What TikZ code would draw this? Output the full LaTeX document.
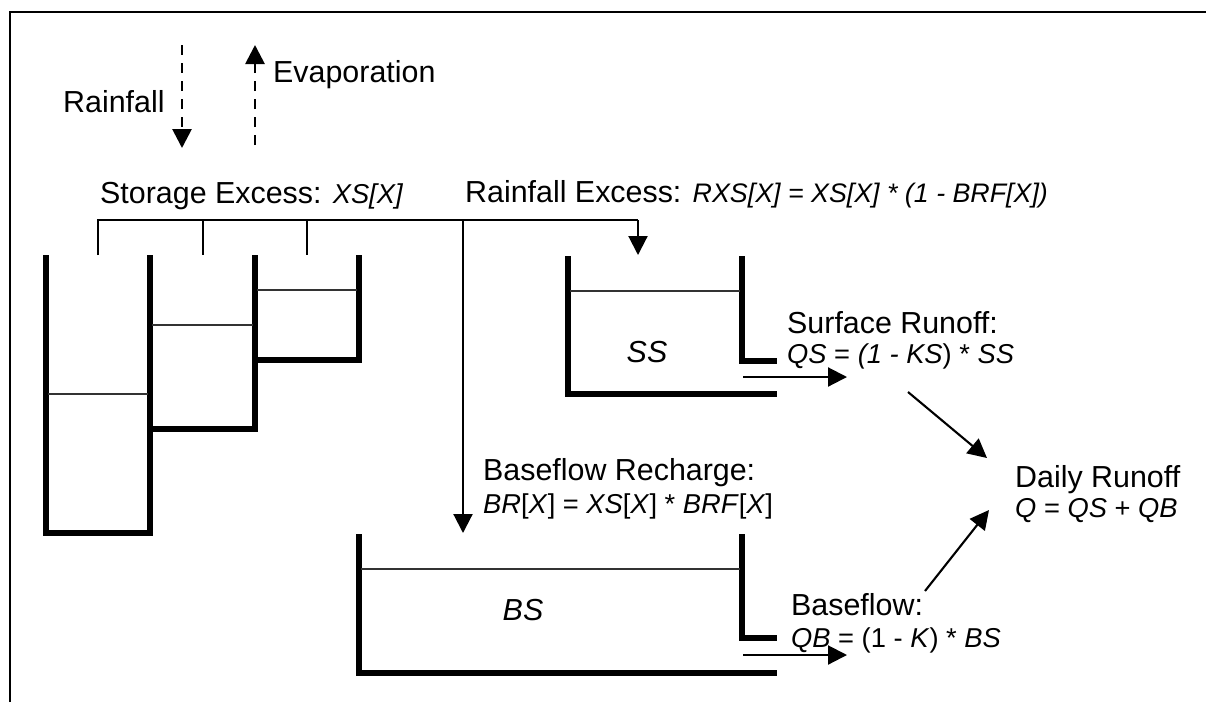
\documentclass[tikz,border=0pt]{standalone}
\usepackage{fontspec}
\setmainfont{Liberation Sans}
\usetikzlibrary{arrows.meta}
\begin{document}
\begin{tikzpicture}[x=1pt,y=-1pt,
  wall/.style={line width=5.2pt, line join=miter, line cap=butt},
  water/.style={line width=1.1pt, black!80},
  thinline/.style={line width=2.1pt},
  conn/.style={line width=2.1pt, -{Triangle[length=19pt,width=19pt]}},
  dasharrow/.style={line width=2.8pt, dash pattern=on 10pt off 8pt, -{Triangle[length=19pt,width=19pt]}},
  txt/.style={anchor=base west, inner sep=0pt, font=\fontsize{30.4}{36}\selectfont},
  fml/.style={anchor=base west, inner sep=0pt, font=\fontsize{27.3}{33}\selectfont},
  lbl/.style={inner sep=0pt, font=\fontsize{30.4}{36}\selectfont\itshape}]
\useasboundingbox (0,0) rectangle (1206,702);
% frame
\draw[line width=2.2pt] (10,702) -- (10,12) -- (1206,12);
% rainfall / evaporation
\coordinate (rtop) at (182,45);
\coordinate (rbot) at (182,148);
\coordinate (etop) at (255,45);
\coordinate (ebot) at (255,145);
\draw[dasharrow] (rtop) -- (rbot);
\draw[dasharrow] (ebot) -- (etop);
\node[txt] (rain) at (63,112) {Rainfall};
\node[txt] (evap) at (273,82) {Evaporation};
% storage excess labels
\node[txt] (se) at (100,203) {Storage Excess: {\fontsize{27.3}{33}\selectfont\itshape XS[X]}};
\node[txt] (re) at (465,202) {Rainfall Excess: {\fontsize{26.8}{33}\selectfont\itshape RXS[X] = XS[X] * (1 - BRF[X])}};
% bracket
\coordinate (b1) at (98,220);
\coordinate (b1d) at (98,255);
\coordinate (b2) at (203,220);
\coordinate (b2d) at (203,255);
\coordinate (b3) at (307,220);
\coordinate (b3d) at (307,255);
\coordinate (bv) at (463,220);
\coordinate (bsin) at (463,533);
\coordinate (be) at (638,220);
\coordinate (ssin) at (638,255);
\draw[thinline] (b1d) -- (b1) -- (be);
\draw[thinline] (b2) -- (b2d);
\draw[thinline] (b3) -- (b3d);
\draw[conn] (be) -- (ssin);
\draw[conn] (bv) -- (bsin);
% soil stores
\draw[wall] (46,255) -- (46,533) -- (150,533) -- (150,255);
\draw[wall] (150,429) -- (255,429) -- (255,255);
\draw[wall] (255,360) -- (359,360) -- (359,255);
\draw[water] (48,394) -- (148,394);
\draw[water] (152,325) -- (253,325);
\draw[water] (257,290) -- (357,290);
% surface store
\draw[wall] (568,256) -- (568,394) -- (777,394);
\draw[wall] (742,256) -- (742,361) -- (777,361);
\draw[water] (570,291) -- (740,291);
\node[lbl] (ss) at (647,352) {SS};
\coordinate (ssout) at (743,377);
\coordinate (ssend) at (847,377);
\draw[conn] (ssout) -- (ssend);
\node[txt] (sr) at (787,333) {Surface Runoff:};
\node[fml] (srf) at (787,363) {\textit{QS} = \textit{(1 - KS}) * \textit{SS}};
% base store
\draw[wall] (359,534) -- (359,673) -- (777,673);
\draw[wall] (742,534) -- (742,638) -- (777,638);
\draw[water] (361,569) -- (740,569);
\node[lbl] (bs) at (523,610) {BS};
\coordinate (bsout) at (743,655);
\coordinate (bsend) at (847,655);
\draw[conn] (bsout) -- (bsend);
\node[txt] (br) at (483,480) {Baseflow Recharge:};
\node[fml] (brf) at (483,513) {\textit{BR}[\textit{X}] = \textit{XS}[\textit{X}] * \textit{BRF}[\textit{X}]};
\node[txt] (bf) at (791,615) {Baseflow:};
\node[fml] (bff) at (791,647) {\textit{QB} = (1 - \textit{K}) * \textit{BS}};
% daily runoff
\node[txt] (dr) at (1015,487) {Daily Runoff};
\node[fml] (drf) at (1015,517) {\textit{Q} = \textit{QS} + \textit{QB}};
\coordinate (a1s) at (908,392);
\coordinate (a1e) at (987,458);
\coordinate (a2s) at (925,591);
\coordinate (a2e) at (989,510);
\draw[conn] (a1s) -- (a1e);
\draw[conn] (a2s) -- (a2e);
\end{tikzpicture}
\end{document}
